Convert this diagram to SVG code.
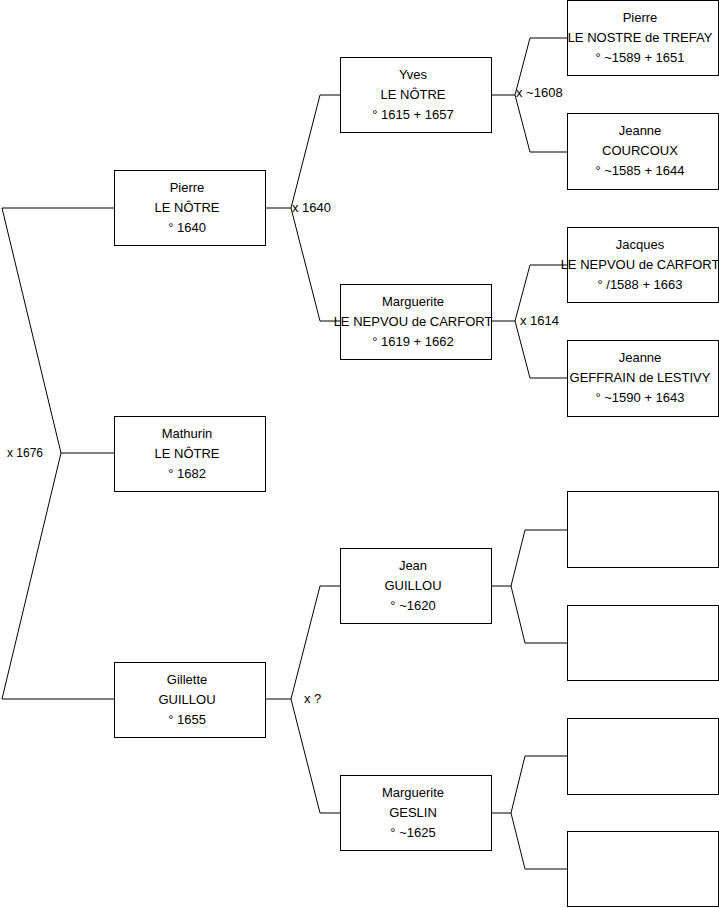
<svg xmlns="http://www.w3.org/2000/svg" width="719" height="908" viewBox="0 0 719 908">
<style>
.b{fill:#fff;stroke:#000;stroke-width:1}
.c{fill:none;stroke:#000;stroke-width:1}
text{font-family:"Liberation Sans",Arial,sans-serif;font-size:13px;fill:#000}
.n text{text-anchor:middle}
</style>
<rect width="719" height="908" fill="#fff"/>
<g id="connectors">
<polyline class="c" points="114,208 2,208 61,453 2,699 114,699"/>
<line class="c" x1="61" y1="453" x2="114" y2="453"/>
<line class="c" x1="265" y1="208" x2="291" y2="208"/>
<polyline class="c" points="341,95 320,95 291,208 320,321 341,321"/>
<line class="c" x1="265" y1="699" x2="291" y2="699"/>
<polyline class="c" points="341,586 320,586 291,699 320,813 341,813"/>
<line class="c" x1="492" y1="95" x2="515" y2="95"/>
<polyline class="c" points="567,38 530,38 515,95 530,152 567,152"/>
<line class="c" x1="492" y1="321" x2="515" y2="321"/>
<polyline class="c" points="567,265 530,265 515,321 530,378 567,378"/>
<line class="c" x1="492" y1="586" x2="511" y2="586"/>
<polyline class="c" points="567,530 525,530 511,586 525,643 567,643"/>
<line class="c" x1="492" y1="813" x2="511" y2="813"/>
<polyline class="c" points="567,756 525,756 511,813 525,869 567,869"/>
<text x="7" y="457" style="font-size:12px">x 1676</text>
<text x="292" y="212">x 1640</text>
<text x="304" y="703">x ?</text>
<text x="516" y="97">x ~1608</text>
<text x="520" y="325">x 1614</text>
</g>
<g id="pierre" class="n"><rect class="b" x="114.5" y="170.5" width="151" height="75"/><text x="187" y="191.7">Pierre</text><text x="187" y="211.7">LE NÔTRE</text><text x="187" y="231.7">° 1640</text></g>
<g id="mathurin" class="n"><rect class="b" x="114.5" y="416.5" width="151" height="75"/><text x="187" y="437.7">Mathurin</text><text x="187" y="457.7">LE NÔTRE</text><text x="187" y="477.7">° 1682</text></g>
<g id="gillette" class="n"><rect class="b" x="114.5" y="662.5" width="151" height="75"/><text x="187" y="683.7">Gillette</text><text x="187" y="703.7">GUILLOU</text><text x="187" y="723.7">° 1655</text></g>
<g id="yves" class="n"><rect class="b" x="340.5" y="57.5" width="151" height="75"/><text x="413" y="78.7">Yves</text><text x="413" y="98.7">LE NÔTRE</text><text x="413" y="118.7">° 1615 + 1657</text></g>
<g id="marguerite1" class="n"><rect class="b" x="340.5" y="284.5" width="151" height="75"/><text x="413" y="305.7">Marguerite</text><text x="413" y="325.7">LE NEPVOU de CARFORT</text><text x="413" y="345.7">° 1619 + 1662</text></g>
<g id="jean" class="n"><rect class="b" x="340.5" y="548.5" width="151" height="75"/><text x="413" y="569.7">Jean</text><text x="413" y="589.7">GUILLOU</text><text x="413" y="609.7">° ~1620</text></g>
<g id="marguerite2" class="n"><rect class="b" x="340.5" y="775.5" width="151" height="75"/><text x="413" y="796.7">Marguerite</text><text x="413" y="816.7">GESLIN</text><text x="413" y="836.7">° ~1625</text></g>
<g id="pierre2" class="n"><rect class="b" x="567.5" y="0.5" width="151" height="75"/><text x="640" y="21.7">Pierre</text><text x="640" y="41.7">LE NOSTRE de TREFAY</text><text x="640" y="61.7">° ~1589 + 1651</text></g>
<g id="jeanne1" class="n"><rect class="b" x="567.5" y="113.5" width="151" height="76"/><text x="640" y="135.2">Jeanne</text><text x="640" y="155.2">COURCOUX</text><text x="640" y="175.2">° ~1585 + 1644</text></g>
<g id="jacques" class="n"><rect class="b" x="567.5" y="227.5" width="151" height="75"/><text x="640" y="248.7">Jacques</text><text x="640" y="268.7">LE NEPVOU de CARFORT</text><text x="640" y="288.7">° /1588 + 1663</text></g>
<g id="jeanne2" class="n"><rect class="b" x="567.5" y="340.5" width="151" height="76"/><text x="640" y="362.2">Jeanne</text><text x="640" y="382.2">GEFFRAIN de LESTIVY</text><text x="640" y="402.2">° ~1590 + 1643</text></g>
<g id="empty1"><rect class="b" x="567.5" y="491.5" width="151" height="76"/></g>
<g id="empty2"><rect class="b" x="567.5" y="605.5" width="151" height="75"/></g>
<g id="empty3"><rect class="b" x="567.5" y="718.5" width="151" height="76"/></g>
<g id="empty4"><rect class="b" x="567.5" y="831.5" width="151" height="75"/></g>
</svg>
